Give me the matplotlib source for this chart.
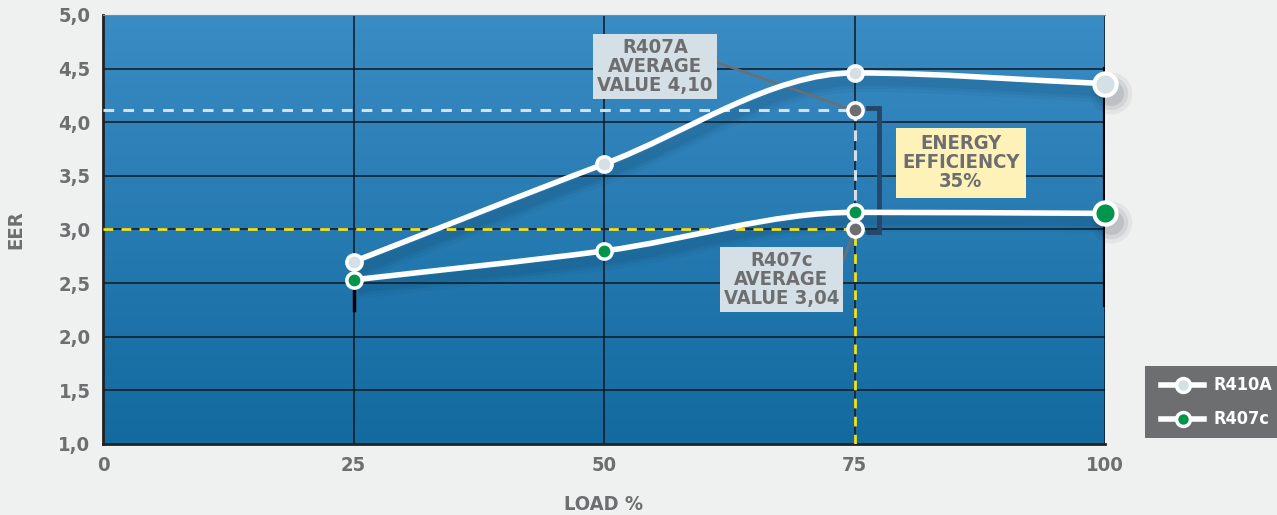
import numpy as np
import matplotlib
matplotlib.use('Agg')
import matplotlib.pyplot as plt
from matplotlib.path import Path
from matplotlib.patches import PathPatch, Rectangle
from matplotlib import transforms
from matplotlib.colors import LinearSegmentedColormap

load = [25, 50, 75, 100]
r410a = [2.70, 3.61, 4.46, 4.36]
r407c = [2.53, 2.80, 3.16, 3.15]
avg_a = 4.11
avg_c = 3.00
xticks = [0, 25, 50, 75, 100]
yticks = [1.0, 1.5, 2.0, 2.5, 3.0, 3.5, 4.0, 4.5, 5.0]
ylabels = ['1,0', '1,5', '2,0', '2,5', '3,0', '3,5', '4,0', '4,5', '5,0']

grey = '#6d6e70'
plt.rcParams['font.family'] = ['DejaVu Sans']
plt.rcParams['font.stretch'] = 'condensed'
plt.rcParams['font.weight'] = 'bold'

fig = plt.figure(figsize=(12.77, 5.15), dpi=100, facecolor='#eff0f0')
ax = fig.add_axes([0.0807, 0.1379, 0.7846, 0.833])
ax.set_xlim(0, 100)
ax.set_ylim(1.0, 5.0)

# background gradient
cmap = LinearSegmentedColormap.from_list('bg', ['#126a9f', '#3a8cc4'])
grad = np.linspace(0, 1, 256).reshape(-1, 1)
ax.imshow(grad, aspect='auto', cmap=cmap, origin='lower',
          extent=[0, 100, 1, 5], zorder=0)

for y in yticks[1:-1]:
    ax.axhline(y, color='#111820', lw=1.1, zorder=1)
for x in xticks[1:]:
    ax.axvline(x, color='#111820', lw=1.1, zorder=1)

for s in ['left', 'bottom']:
    ax.spines[s].set_color('#222222')
    ax.spines[s].set_linewidth(2)
ax.spines['top'].set_color('#888888')
ax.spines['right'].set_visible(False)

ax.set_xticks(xticks)
ax.set_yticks(yticks)
ax.set_yticklabels(ylabels)
ax.tick_params(length=0, colors=grey, labelsize=14.5, pad=9)
ax.set_xlabel('LOAD %', color=grey, fontsize=14.5, fontweight='bold', labelpad=14)
ax.set_ylabel('EER', color=grey, fontsize=14.5, fontweight='bold', labelpad=24)


def smooth_path(xs, ys):
    # monotone cubic (Fritsch-Carlson) tangents drawn as bezier segments
    xs = np.asarray(xs, float)
    ys = np.asarray(ys, float)
    n = len(xs)
    h = np.diff(xs)
    d = np.diff(ys) / h
    m = np.zeros(n)
    m[0], m[-1] = d[0], d[-1]
    for i in range(1, n - 1):
        if d[i - 1] * d[i] <= 0:
            m[i] = 0
        else:
            m[i] = 2 / (1 / d[i - 1] + 1 / d[i])
    verts = [(xs[0], ys[0])]
    codes = [Path.MOVETO]
    for i in range(n - 1):
        verts += [(xs[i] + h[i] / 3, ys[i] + m[i] * h[i] / 3),
                  (xs[i + 1] - h[i] / 3, ys[i + 1] - m[i + 1] * h[i] / 3),
                  (xs[i + 1], ys[i + 1])]
        codes += [Path.CURVE4] * 3
    return Path(verts, codes)


for ys in [r410a, r407c]:
    p = smooth_path(load, ys)
    for lw, a in [(16, 0.05), (11, 0.07), (7, 0.08)]:
        sh = transforms.offset_copy(ax.transData, fig=fig, x=4, y=-8, units='dots')
        ax.add_patch(PathPatch(p, fc='none', ec='#0b2f4a', lw=lw, alpha=a,
                               transform=sh, zorder=2))
    ax.add_patch(PathPatch(p, fc='none', ec='white', lw=4, zorder=4,
                           capstyle='round'))

# average guide lines
ax.plot([0, 75], [avg_a, avg_a], color='#d5dfe6', lw=2.2, dashes=(3.5, 3), zorder=3)
ax.plot([75, 75], [avg_a, r407c[2]], color='#d5dfe6', lw=2.2, dashes=(3.5, 3), zorder=3)
ax.plot([0, 75], [avg_c, avg_c], color='#1c2a36', lw=1.2, zorder=3)
ax.plot([0, 75], [avg_c, avg_c], color='#f2e21b', lw=2.0, dashes=(3.5, 3), zorder=3)
ax.plot([75, 75], [1.0, avg_c], color='#1c2a36', lw=1.2, zorder=3)
ax.plot([75, 75], [1.0, avg_c], color='#f2e21b', lw=2.0, dashes=(3.5, 3), zorder=3)

# thick black segments
ax.plot([25, 25], [2.25, 2.68], color='black', lw=2.5, zorder=1.5)
ax.plot([100, 100], [2.3, 4.5], color='black', lw=3, zorder=1.5)

# bracket
ax.plot([76.3, 77.4, 77.4, 76.3], [4.13, 4.13, 2.98, 2.98],
        color='#27476a', lw=3.5, solid_joinstyle='miter', zorder=3)

# markers
ax.plot(load[:3], r410a[:3], 'o', ms=11, mfc='#d5dfe6', mec='white', mew=2.5, zorder=5)
ax.plot(load[:3], r407c[:3], 'o', ms=11, mfc='#00954a', mec='white', mew=2.5, zorder=5)
for yv, c in [(r410a[3], '#d5dfe6'), (r407c[3], '#00954a')]:
    for ms, a in [(30, 0.05), (24, 0.08), (18, 0.1)]:
        sh = transforms.offset_copy(ax.transData, fig=fig, x=6, y=-9, units='dots')
        ax.plot([100], [yv], 'o', ms=ms, mfc='#0b1a26', mec='none', alpha=a,
                transform=sh, zorder=4.5, clip_on=False)
    ax.plot([100], [yv], 'o', ms=16, mfc=c, mec='white', mew=3, zorder=6, clip_on=False)
ax.plot([75, 75], [avg_a, avg_c], 'o', ms=11, mfc=grey, mec='white', mew=2.5, zorder=6)

# callouts
ax.plot([60.9, 75], [4.57, avg_a], color=grey, lw=1.8, zorder=3.5)
ax.plot([73.3, 75], [2.56, avg_c], color=grey, lw=1.8, zorder=3.5)
box = dict(boxstyle='square,pad=0.2', fc='#d5dfe6', ec='none')
ax.text(55.1, 4.52, 'R407A\nAVERAGE\nVALUE 4,10', ha='center', va='center',
        color=grey, fontsize=14.5, fontweight='bold', linespacing=1.0, zorder=7,
        bbox=box)
ax.text(67.7, 2.53, 'R407c\nAVERAGE\nVALUE 3,04', ha='center', va='center',
        color=grey, fontsize=14.5, fontweight='bold', linespacing=1.0, zorder=7,
        bbox=box)
ax.text(85.6, 3.62, 'ENERGY\nEFFICIENCY\n35%', ha='center', va='center',
        color=grey, fontsize=14.5, fontweight='bold', linespacing=1.0, zorder=7,
        bbox=dict(boxstyle='square,pad=0.3', fc='#fff2b8', ec='none'))

# legend
lax = fig.add_axes([1145 / 1277, 1 - 438 / 515, 132 / 1277, 72 / 515])
lax.set_xlim(0, 1)
lax.set_ylim(0, 1)
lax.axis('off')
lax.add_patch(Rectangle((0, 0), 1, 1, fc=grey, ec='none'))
for yy, c, name in [(0.74, '#d5dfe6', 'R410A'), (0.26, '#00954a', 'R407c')]:
    lax.plot([0.12, 0.45], [yy, yy], color='white', lw=4)
    lax.plot([0.29], [yy], 'o', ms=10, mfc=c, mec='white', mew=2.5)
    lax.text(0.52, yy, name, color='white', fontsize=13, fontweight='bold',
             va='center', ha='left')

fig.savefig('out.png', dpi=100, facecolor=fig.get_facecolor())
